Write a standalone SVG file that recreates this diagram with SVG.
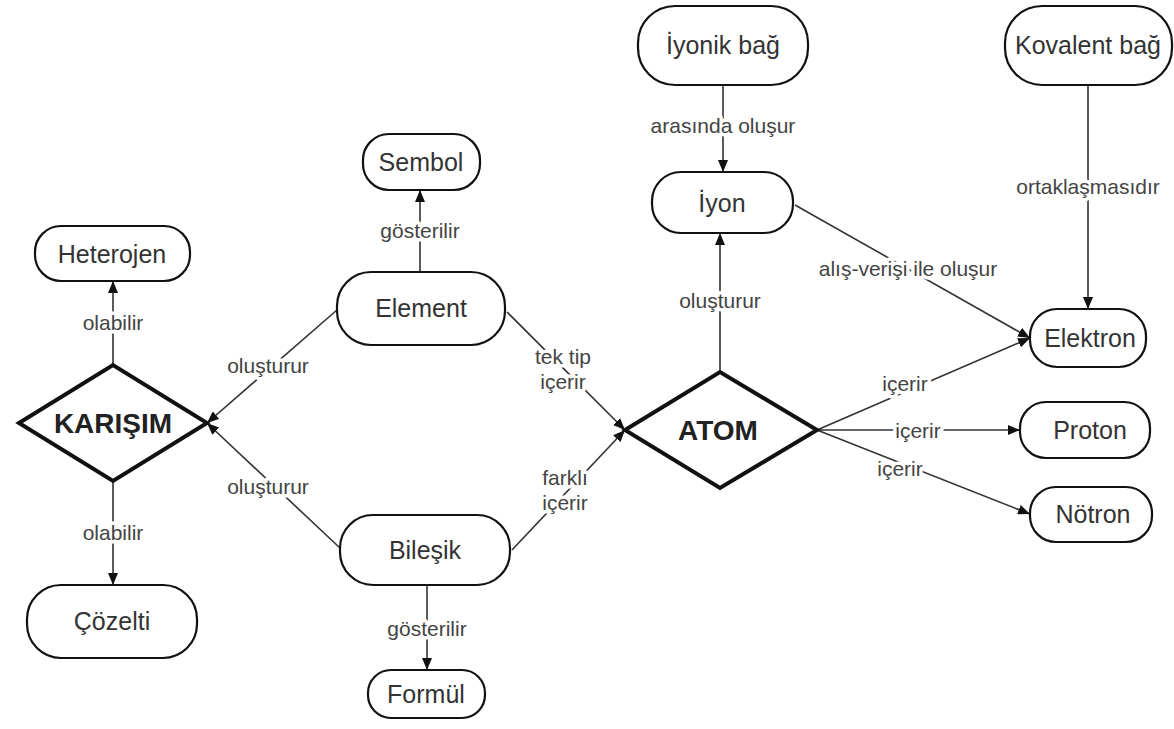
<svg xmlns="http://www.w3.org/2000/svg" width="1174" height="729" viewBox="0 0 1174 729">
<defs>
<marker id="arr" viewBox="0 0 12 10" refX="12" refY="5" markerWidth="12" markerHeight="10" markerUnits="userSpaceOnUse" orient="auto">
<path d="M0,0 L12,5 L0,10 z" fill="#111"/>
</marker>
<style>
.box{fill:#fff;stroke:#111;stroke-width:2.2}
.dia{fill:#fff;stroke:#111;stroke-width:4;stroke-linejoin:miter}
.nt{font-family:"Liberation Sans",Arial,sans-serif;font-size:25px;fill:#333;text-anchor:middle;dominant-baseline:central}
.bt{font-family:"Liberation Sans",Arial,sans-serif;font-size:28px;font-weight:bold;fill:#222;text-anchor:middle;dominant-baseline:central}
.ln{fill:none;stroke:#333;stroke-width:1.6;marker-end:url(#arr)}
.lb{font-family:"Liberation Sans",Arial,sans-serif;font-size:21px;fill:#444;text-anchor:middle;dominant-baseline:central;stroke:#fff;stroke-width:7;paint-order:stroke;stroke-linejoin:round}
</style>
</defs>
<rect width="1174" height="729" fill="#fff"/>
<g id="connectors">
<line class="ln" x1="113" y1="365" x2="113" y2="281"/>
<line class="ln" x1="113" y1="481" x2="113" y2="585"/>
<line class="ln" x1="420" y1="272" x2="420" y2="190"/>
<line class="ln" x1="427" y1="585" x2="427" y2="670"/>
<line class="ln" x1="337" y1="310" x2="207" y2="423"/>
<line class="ln" x1="340" y1="548" x2="207" y2="423"/>
<line class="ln" x1="507" y1="312" x2="625" y2="430"/>
<line class="ln" x1="512" y1="550" x2="625" y2="430"/>
<line class="ln" x1="723" y1="85" x2="723" y2="172"/>
<line class="ln" x1="720" y1="372" x2="720" y2="233"/>
<line class="ln" x1="795" y1="205" x2="1030" y2="338"/>
<line class="ln" x1="1088" y1="85" x2="1088" y2="309"/>
<line class="ln" x1="817" y1="430" x2="1030" y2="338"/>
<line class="ln" x1="817" y1="430" x2="1020" y2="430"/>
<line class="ln" x1="817" y1="430" x2="1030" y2="514"/>
<text class="lb" x="113" y="322">olabilir</text>
<text class="lb" x="113" y="532">olabilir</text>
<text class="lb" x="420" y="230">gösterilir</text>
<text class="lb" x="427" y="628">gösterilir</text>
<text class="lb" x="268" y="365">oluşturur</text>
<text class="lb" x="268" y="486">oluşturur</text>
<text class="lb" x="563" y="356">tek tip</text>
<text class="lb" x="563" y="381">içerir</text>
<text class="lb" x="565" y="477">farklı</text>
<text class="lb" x="565" y="502">içerir</text>
<text class="lb" x="723" y="125">arasında oluşur</text>
<text class="lb" x="720" y="300">oluşturur</text>
<text class="lb" x="908" y="268">alış-verişi ile oluşur</text>
<text class="lb" x="1088" y="186">ortaklaşmasıdır</text>
<text class="lb" x="905" y="383">içerir</text>
<text class="lb" x="918" y="430">içerir</text>
<text class="lb" x="900" y="468">içerir</text>
</g>
<g id="karisim"><polygon class="dia" points="19,423 113,365 207,423 113,481"/><text class="bt" x="113" y="423">KARIŞIM</text></g>
<g id="atom"><polygon class="dia" points="625,430 720,372 817,430 720,488"/><text class="bt" x="718" y="430">ATOM</text></g>
<g id="heterojen"><rect class="box" x="35" y="226" width="155" height="55" rx="26" ry="26"/><text class="nt" x="112" y="254">Heterojen</text></g>
<g id="cozelti"><rect class="box" x="27" y="585" width="170" height="73" rx="34" ry="34"/><text class="nt" x="112" y="621">Çözelti</text></g>
<g id="sembol"><rect class="box" x="363" y="134" width="117" height="56" rx="26" ry="26"/><text class="nt" x="421" y="162">Sembol</text></g>
<g id="element"><rect class="box" x="337" y="272" width="168" height="73" rx="34" ry="34"/><text class="nt" x="421" y="308">Element</text></g>
<g id="bilesik"><rect class="box" x="340" y="515" width="170" height="70" rx="33" ry="33"/><text class="nt" x="425" y="550">Bileşik</text></g>
<g id="formul"><rect class="box" x="368" y="670" width="117" height="48" rx="23" ry="23"/><text class="nt" x="426" y="694">Formül</text></g>
<g id="iyonik"><rect class="box" x="638" y="6" width="170" height="79" rx="37" ry="37"/><text class="nt" x="723" y="45">İyonik bağ</text></g>
<g id="iyon"><rect class="box" x="652" y="172" width="141" height="61" rx="29" ry="29"/><text class="nt" x="722" y="203">İyon</text></g>
<g id="kovalent"><rect class="box" x="1005" y="6" width="167" height="79" rx="37" ry="37"/><text class="nt" x="1088" y="45">Kovalent bağ</text></g>
<g id="elektron"><rect class="box" x="1030" y="309" width="116" height="58" rx="27" ry="27"/><text class="nt" x="1090" y="338">Elektron</text></g>
<g id="proton"><rect class="box" x="1020" y="402" width="130" height="56" rx="26" ry="26"/><text class="nt" x="1090" y="430">Proton</text></g>
<g id="notron"><rect class="box" x="1030" y="487" width="122" height="55" rx="26" ry="26"/><text class="nt" x="1093" y="514">Nötron</text></g>
</svg>
